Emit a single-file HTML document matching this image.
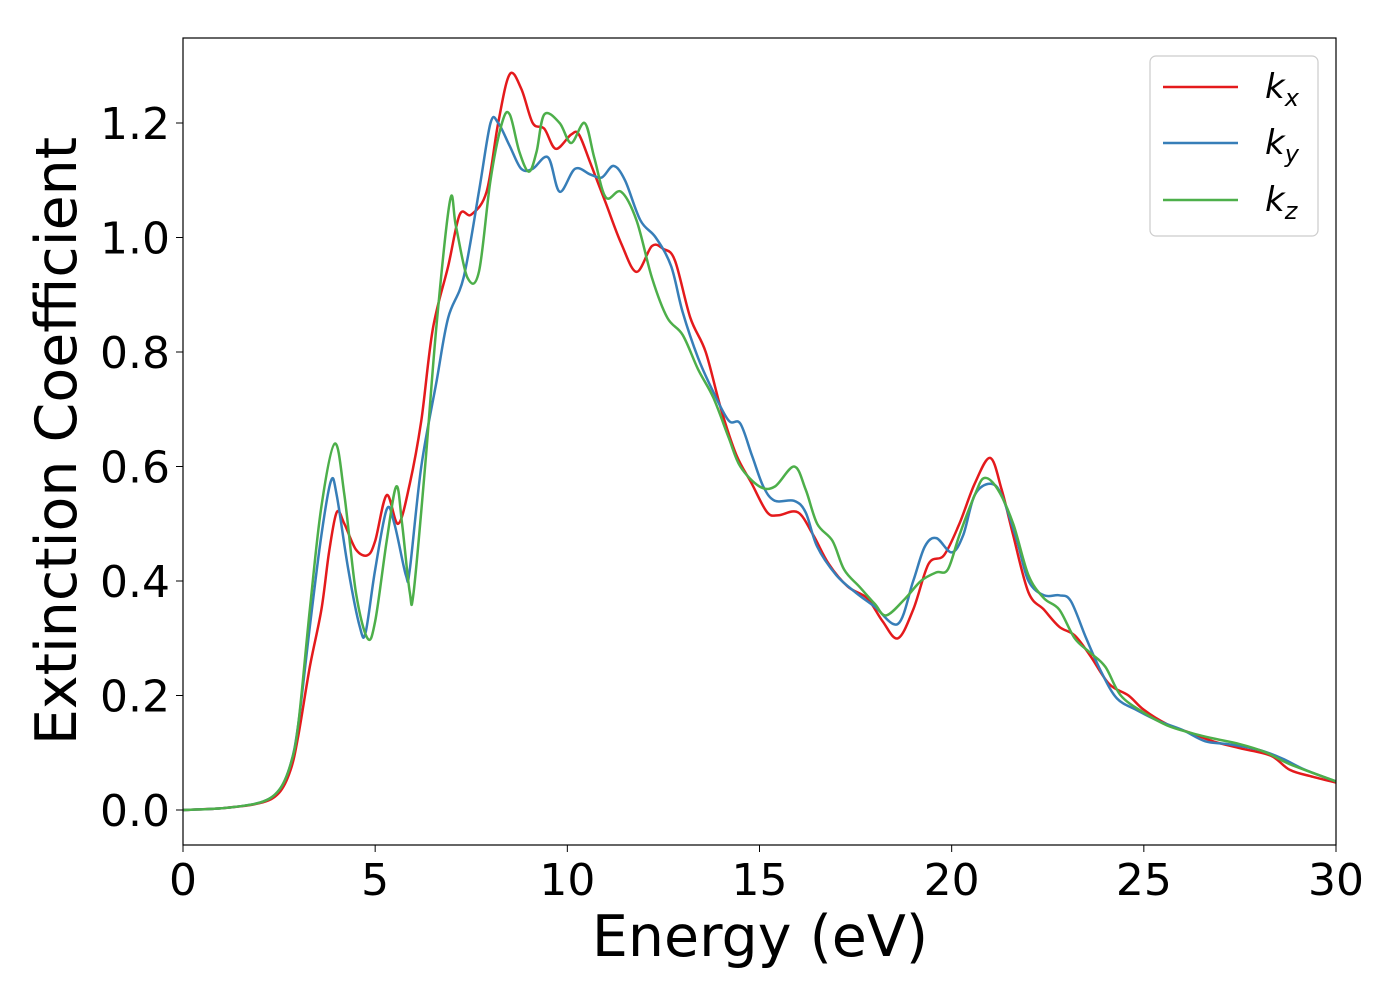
<!DOCTYPE html>
<html><head><meta charset="utf-8"><style>
html,body{margin:0;padding:0;background:#fff;}
svg{display:block;font-family:"DejaVu Sans","Liberation Sans",sans-serif;}
</style></head><body>
<svg id="chart" width="1400" height="1000" viewBox="0 0 1400 1000">
<rect x="0" y="0" width="1400" height="1000" fill="#fff"/>
<g id="series"></g>
<rect x="183" y="38" width="1153" height="807" fill="none" stroke="#000" stroke-width="1.2"/>
<g id="xticks"></g>
<g id="yticks"></g>
<text x="760" y="956" font-size="57" text-anchor="middle">Energy (eV)</text>
<text transform="translate(76,441) rotate(-90)" font-size="57" text-anchor="middle">Extinction Coefficient</text>
<g>
<rect x="1150" y="56" width="168" height="180" rx="6" fill="#fff" fill-opacity="0.8" stroke="#ccc" stroke-width="1.2"/>
<line x1="1163" y1="87" x2="1238" y2="87" stroke="#e41a1c" stroke-width="2.5"/>
<text x="1265" y="98" font-size="34" font-style="italic">k<tspan font-size="24" dy="8">x</tspan></text>
<line x1="1163" y1="143" x2="1238" y2="143" stroke="#377eb8" stroke-width="2.5"/>
<text x="1265" y="154" font-size="34" font-style="italic">k<tspan font-size="24" dy="8">y</tspan></text>
<line x1="1163" y1="200" x2="1238" y2="200" stroke="#4daf4a" stroke-width="2.5"/>
<text x="1265" y="211" font-size="34" font-style="italic">k<tspan font-size="24" dy="8">z</tspan></text>
</g>
</svg>
<script>
const xTickLabels=["0","5","10","15","20","25","30"];
const xTickValues=[0,5,10,15,20,25,30];
const yTickLabels=["0.0","0.2","0.4","0.6","0.8","1.0","1.2"];
const yTickValues=[0,0.2,0.4,0.6,0.8,1.0,1.2];
const kxE=[0,1,2,2.5,2.8,3.0,3.3,3.6,3.8,4.0,4.2,4.5,4.8,5.0,5.3,5.6,5.9,6.2,6.5,6.9,7.2,7.5,7.9,8.2,8.5,8.8,9.1,9.4,9.7,10.1,10.3,10.6,11.0,11.4,11.8,12.2,12.5,12.8,13.2,13.6,14.0,14.4,14.8,15.2,15.5,16.0,16.4,16.8,17.3,17.8,18.2,18.6,19.0,19.4,19.8,20.2,20.6,21.0,21.3,21.6,22.0,22.4,22.8,23.2,23.6,24.1,24.6,25.0,25.6,26.2,26.8,27.5,28.3,28.8,29.4,30];
const kxV=[0,0.003,0.012,0.03,0.07,0.13,0.25,0.35,0.45,0.52,0.5,0.455,0.445,0.47,0.55,0.5,0.57,0.68,0.84,0.95,1.04,1.04,1.08,1.2,1.285,1.26,1.2,1.19,1.155,1.18,1.18,1.13,1.06,0.99,0.94,0.985,0.98,0.96,0.86,0.8,0.7,0.62,0.57,0.52,0.515,0.52,0.48,0.43,0.39,0.37,0.33,0.3,0.35,0.43,0.445,0.5,0.57,0.615,0.56,0.48,0.38,0.35,0.32,0.305,0.27,0.22,0.2,0.175,0.15,0.135,0.12,0.108,0.095,0.07,0.058,0.048];
const kyE=[0,1,2,2.5,2.8,3.0,3.3,3.6,3.85,4.0,4.3,4.6,4.75,5.0,5.3,5.5,5.8,5.9,6.2,6.6,6.9,7.3,7.7,8.0,8.2,8.5,8.8,9.1,9.5,9.8,10.2,10.6,10.9,11.2,11.5,11.9,12.3,12.7,13.0,13.4,13.8,14.2,14.5,14.8,15.1,15.4,15.9,16.2,16.5,17.0,17.5,18.0,18.6,19.0,19.3,19.6,20.0,20.3,20.6,21.0,21.3,21.7,22.0,22.4,22.8,23.1,23.5,23.9,24.3,24.8,25.4,26.0,26.6,27.2,28.0,28.6,29.2,30];
const kyV=[0,0.003,0.013,0.035,0.08,0.15,0.32,0.48,0.575,0.55,0.42,0.32,0.31,0.42,0.525,0.5,0.41,0.42,0.6,0.75,0.86,0.93,1.08,1.2,1.2,1.16,1.12,1.12,1.14,1.08,1.12,1.11,1.105,1.125,1.1,1.03,1.0,0.95,0.87,0.79,0.73,0.68,0.675,0.62,0.565,0.54,0.54,0.52,0.46,0.41,0.38,0.355,0.325,0.4,0.46,0.475,0.45,0.48,0.55,0.57,0.55,0.47,0.4,0.375,0.375,0.365,0.3,0.24,0.195,0.175,0.155,0.14,0.12,0.115,0.105,0.09,0.07,0.05];
const kzE=[0,1,2,2.5,2.8,3.0,3.3,3.6,3.95,4.2,4.5,4.8,5.0,5.3,5.55,5.7,5.9,6.0,6.3,6.6,6.95,7.1,7.4,7.7,8.0,8.3,8.5,8.75,9.0,9.2,9.4,9.8,10.1,10.45,10.7,11.0,11.4,11.8,12.2,12.6,13.0,13.4,13.8,14.2,14.5,15.0,15.4,15.9,16.2,16.5,16.9,17.2,17.6,18.0,18.3,18.8,19.2,19.6,19.9,20.2,20.6,20.85,21.2,21.6,22.0,22.4,22.8,23.2,23.6,24.0,24.4,25.0,25.6,26.2,26.8,27.5,28.2,28.8,30];
const kzV=[0,0.003,0.013,0.035,0.08,0.15,0.35,0.53,0.64,0.55,0.38,0.3,0.33,0.47,0.565,0.5,0.38,0.38,0.6,0.85,1.065,1.02,0.93,0.94,1.1,1.2,1.215,1.15,1.115,1.15,1.215,1.2,1.165,1.2,1.14,1.07,1.08,1.03,0.93,0.86,0.83,0.77,0.72,0.65,0.6,0.565,0.565,0.6,0.56,0.5,0.47,0.42,0.39,0.36,0.34,0.37,0.4,0.415,0.42,0.48,0.55,0.58,0.56,0.5,0.41,0.37,0.35,0.3,0.275,0.25,0.2,0.17,0.148,0.135,0.125,0.115,0.1,0.08,0.05];

const NS="http://www.w3.org/2000/svg";
const X0=183,X1=1336,Y0=810,YPER=572.5;
function xs(e){return X0+(e-0)/(30-0)*(X1-X0);}
function ys(v){return Y0-v*YPER;}
function smoothPath(E,V){
  const p=E.map((e,i)=>[xs(e),ys(V[i])]);
  let d="M"+p[0][0].toFixed(1)+","+p[0][1].toFixed(1);
  for(let i=0;i<p.length-1;i++){
    const a=p[i-1]||p[i],b=p[i],c=p[i+1],n=p[i+2]||c;
    const c1=[b[0]+(c[0]-a[0])/6,b[1]+(c[1]-a[1])/6];
    const c2=[c[0]-(n[0]-b[0])/6,c[1]-(n[1]-b[1])/6];
    d+=" C"+c1[0].toFixed(1)+","+c1[1].toFixed(1)+" "+c2[0].toFixed(1)+","+c2[1].toFixed(1)+" "+c[0].toFixed(1)+","+c[1].toFixed(1);
  }
  return d;
}
const sg=document.getElementById("series");
const defs=document.createElementNS(NS,"clipPath");defs.setAttribute("id","clip");
const cr=document.createElementNS(NS,"rect");cr.setAttribute("x",X0);cr.setAttribute("y",38);cr.setAttribute("width",X1-X0);cr.setAttribute("height",807);
defs.appendChild(cr);document.getElementById("chart").appendChild(defs);
sg.setAttribute("clip-path","url(#clip)");
[[kxE,kxV,"#e41a1c","line-kx"],[kyE,kyV,"#377eb8","line-ky"],[kzE,kzV,"#4daf4a","line-kz"]].forEach(s=>{
  const path=document.createElementNS(NS,"path");
  path.setAttribute("d",smoothPath(s[0],s[1]));
  path.setAttribute("fill","none");path.setAttribute("stroke",s[2]);path.setAttribute("stroke-width","2.5");
  
  
  sg.appendChild(path);
});
const xg=document.getElementById("xticks");
xTickValues.forEach((v,i)=>{
  const x=xs(v);
  const l=document.createElementNS(NS,"line");
  l.setAttribute("x1",x);l.setAttribute("x2",x);l.setAttribute("y1",845);l.setAttribute("y2",852);l.setAttribute("stroke","#000");
  
  
  xg.appendChild(l);
  const t=document.createElementNS(NS,"text");
  t.setAttribute("x",x);t.setAttribute("y",895);t.setAttribute("font-size","44");t.setAttribute("text-anchor","middle");
  t.textContent=xTickLabels[i];
  
  
  xg.appendChild(t);
});
const yg=document.getElementById("yticks");
yTickValues.forEach((v,i)=>{
  const y=ys(v);
  const l=document.createElementNS(NS,"line");
  l.setAttribute("x1",176);l.setAttribute("x2",183);l.setAttribute("y1",y);l.setAttribute("y2",y);l.setAttribute("stroke","#000");
  
  
  yg.appendChild(l);
  const t=document.createElementNS(NS,"text");
  t.setAttribute("x",170);t.setAttribute("y",y+16);t.setAttribute("font-size","44");t.setAttribute("text-anchor","end");
  t.textContent=yTickLabels[i];
  
  
  yg.appendChild(t);
});
</script>
</body></html>
